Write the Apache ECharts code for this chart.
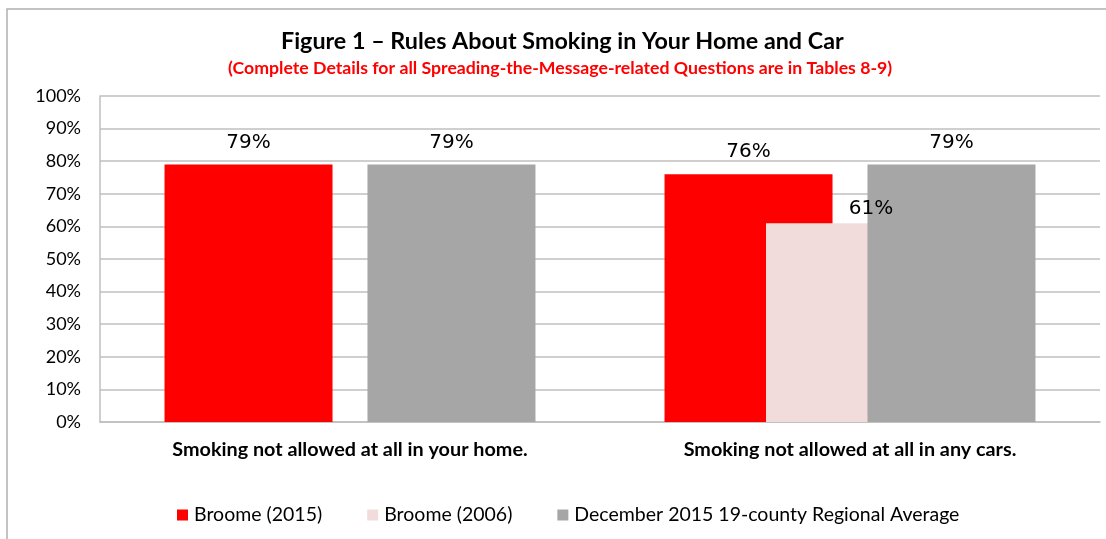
<!DOCTYPE html>
<html>
<head>
<meta charset="utf-8">
<script src="https://cdn.jsdelivr.net/npm/echarts@6/dist/echarts.min.js"></script>
<style>
  html, body { margin: 0; padding: 0; background: #fff; }
  #chart { width: 1106px; height: 539px; }
</style>
</head>
<body>
<div id="chart"></div>
<script>
// chart data
const categories = ['Smoking not allowed at all in your home.', 'Smoking not allowed at all in any cars.']
const seriesNames = ['Broome (2015)', 'Broome (2006)', 'December 2015 19-county Regional Average']
const broome2015 = [79, 76]
const broome2006 = [null, 61]
const regionalAvg = [79, 79]
const yTicks = [0, 10, 20, 30, 40, 50, 60, 70, 80, 90, 100]

const font = 'Lato, "Open Sans", sans-serif'
const labelFont = '"DejaVu Sans", Verdana, sans-serif'

const chart = echarts.init(document.getElementById('chart'), null, { renderer: 'canvas' })

// shared label style for the value labels above the bars
function barLabel(extra) {
  return Object.assign({
    show: true,
    position: 'top',
    distance: 12,
    fontFamily: labelFont,
    fontSize: 20,
    color: '#000',
    formatter: p => p.value + '%',
  }, extra || {})
}

chart.setOption({
  backgroundColor: '#fff',
  animation: false,
  title: [
    {
      text: 'Figure 1 – Rules About Smoking in Your Home and Car',
      left: 281,
      top: 30,
      padding: 0,
      textStyle: { fontFamily: font, fontWeight: 'bold', fontSize: 23.3, color: '#000' },
    },
    {
      text: '(Complete Details for all Spreading-the-Message-related Questions are in Tables 8-9)',
      left: 228,
      top: 59,
      padding: 0,
      textStyle: { fontFamily: font, fontWeight: 'bold', fontSize: 17.7, color: '#FF0000' },
    },
  ],
  legend: {
    data: seriesNames,
    left: 177,
    top: 505,
    icon: 'rect',
    itemWidth: 11,
    itemHeight: 11,
    itemGap: 45,
    padding: 0,
    textStyle: { fontFamily: font, fontSize: 19.5, color: '#000', padding: [0, 0, 0, 1] },
  },
  grid: { left: 100, right: 6, top: 96, bottom: 117 },
  xAxis: {
    type: 'category',
    data: categories,
    axisTick: { show: false },
    axisLine: { lineStyle: { color: '#bfbfbf', width: 1.5 } },
    axisLabel: { margin: 18, fontFamily: font, fontWeight: 'bold', fontSize: 19.8, color: '#000' },
  },
  yAxis: {
    type: 'value',
    min: yTicks[0],
    max: yTicks[yTicks.length - 1],
    interval: 10,
    axisLine: { show: true, lineStyle: { color: '#bfbfbf', width: 1.5 } },
    axisTick: { show: false },
    splitLine: { lineStyle: { color: '#bfbfbf', width: 1.5 } },
    axisLabel: { margin: 19, fontFamily: font, fontSize: 18, color: '#000', formatter: '{value}%' },
  },
  graphic: [
    {
      type: 'polyline',
      shape: { points: [[7, 539], [7, 9], [1106, 9]] },
      style: { stroke: '#b0b0b0', lineWidth: 1.5, fill: null },
      silent: true,
    },
  ],
  series: [
    {
      name: seriesNames[0],
      type: 'bar',
      data: broome2015,
      barWidth: 168,
      barGap: '-39.6%',
      itemStyle: { color: '#FF0000' },
      label: barLabel(),
    },
    {
      name: seriesNames[1],
      type: 'bar',
      data: broome2006,
      barWidth: 168,
      barGap: '-39.6%',
      itemStyle: { color: '#F2DCDB' },
      label: barLabel({ distance: 4, offset: [21, 0] }),
    },
    {
      name: seriesNames[2],
      type: 'bar',
      data: regionalAvg,
      barWidth: 168,
      barGap: '-39.6%',
      itemStyle: { color: '#A6A6A6' },
      label: barLabel(),
    },
  ],
})
</script>
</body>
</html>
